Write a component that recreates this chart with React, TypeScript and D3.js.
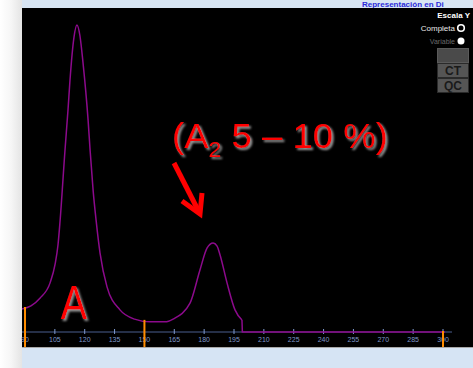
import * as d3 from 'd3';

// electrophoresis trace (x in seconds-ish units, y in % of max)
const curveX = [88.5, 93, 97.5, 102.6, 105.1, 106.6, 107.6, 110.1, 111.6, 112.6, 114.6, 116.1, 117.6, 119.1, 121.7, 122.7, 124.2, 125.7, 127.7, 131.2, 137.7, 145, 152.8, 160.4, 164.4, 172.9, 177.9, 181.5, 184.5, 186.5, 188.0, 191.5, 195.5, 199.0];
const curveY = [7.5, 8.5, 11, 16, 22, 28.5, 36, 59.3, 72.3, 82, 96, 100, 96.5, 88, 69, 59.3, 46.3, 36.5, 25.7, 14.7, 7.2, 4.2, 3.3, 3.3, 4.2, 9.4, 20.2, 27.4, 29.0, 28.0, 25.1, 16.0, 7.2, 3.9];
const tailX = [199.0, 199.2, 301];
const tailY = [3.9, 0, 0];
const limits = [90, 150, 300];
const tickValues = [90, 105, 120, 135, 150, 165, 180, 195, 210, 225, 240, 255, 270, 285, 300];

const W = 473;
const H = 368;
const panel = { left: 22, top: 8, bottom: 347 };
const baseY = 332;

export default function App() {
  const x = d3.scaleLinear().domain([90, 300]).range([25, 443]);
  const y = d3.scaleLinear().domain([0, 100]).range([baseY, 25]);

  const line = d3.line<number>().x(i => x(curveX[i])).y(i => y(curveY[i])).curve(d3.curveMonotoneX);
  const tail = d3.line<number>().x(i => x(tailX[i])).y(i => y(tailY[i]));

  const valueAt = (v: number) => {
    if (v <= curveX[0]) return curveY[0];
    if (v >= curveX[curveX.length - 1]) return 0;
    const j = d3.bisectRight(curveX, v);
    const t = (v - curveX[j - 1]) / (curveX[j] - curveX[j - 1]);
    return curveY[j - 1] + t * (curveY[j] - curveY[j - 1]);
  };

  const font = "'Liberation Sans', Arial, sans-serif";

  return (
    <svg width={W} height={H} style={{ position: 'absolute', left: 0, top: 0, display: 'block' }}>
      <defs>
        <linearGradient id="side" x1="0" x2="1" y1="0" y2="0">
          <stop offset="0" stopColor="#ffffff" />
          <stop offset="0.5" stopColor="#f6f6f6" />
          <stop offset="1" stopColor="#e4e4e4" />
        </linearGradient>
        <filter id="shadow" x="-20%" y="-20%" width="150%" height="150%">
          <feDropShadow dx="2" dy="2" stdDeviation="1" floodColor="#9a9a9a" floodOpacity="1" />
        </filter>
      </defs>

      <rect x={0} y={0} width={panel.left} height={H} fill="url(#side)" />
      <rect x={panel.left} y={0} width={W - panel.left} height={panel.top} fill="#d8e5f3" />
      <text x={362} y={7} fill="#2b2bd9" fontFamily={font} fontWeight="bold" fontSize={8}>Representación en Di</text>

      <rect x={panel.left} y={panel.top} width={W - panel.left} height={panel.bottom - panel.top} fill="#000" />
      <rect x={panel.left} y={panel.bottom} width={W - panel.left} height={H - panel.bottom} fill="#d6e4f4" />
      <line x1={panel.left} x2={W} y1={panel.bottom + 0.5} y2={panel.bottom + 0.5} stroke="#a8a8a8" />

      {/* axis */}
      <line x1={panel.left} x2={452} y1={baseY} y2={baseY} stroke="#4a5f8f" strokeWidth={1} />
      {tickValues.map(t => (
        <g key={t} transform={`translate(${x(t)},0)`}>
          <line y1={baseY - 3} y2={baseY + 2} stroke="#7f9ad0" strokeWidth={1} />
          <text y={baseY + 10} textAnchor="middle" fill="#7f97c8" fontFamily={font} fontSize={7}>{t}</text>
        </g>
      ))}

      {/* trace */}
      <path d={line(d3.range(curveX.length)) || ''} fill="none" stroke="#8c0a8c" strokeWidth={1.5} />
      <path d={tail(d3.range(tailX.length)) || ''} fill="none" stroke="#8c0a8c" strokeWidth={1.5} />

      {/* integration limits */}
      {limits.map(v => (
        <line key={v} x1={x(v)} x2={x(v)} y1={y(valueAt(v)) - 1} y2={panel.bottom} stroke="#ff8c00" strokeWidth={2} />
      ))}

      {/* annotations */}
      <text x={74} y={319} textAnchor="middle" fill="#ff0000" fontFamily={font} fontSize={48}
        filter="url(#shadow)" transform="translate(74,0) scale(0.82,1) translate(-74,0)">A</text>

      <text x={172} y={148} fill="#ff0000" fontFamily={font} fontSize={35} filter="url(#shadow)"
        textLength={216} lengthAdjust="spacingAndGlyphs">
        (A<tspan fontSize={22} dy={9}>2</tspan><tspan dy={-9}> 5 – 10 %)</tspan>
      </text>

      <g stroke="#ff0000" strokeWidth={5} fill="none" strokeLinecap="butt">
        <line x1={174} y1={163} x2={198} y2={210} />
        <polyline points="182,201 200,214 202,193" strokeLinejoin="miter" />
      </g>

      {/* controls */}
      <text x={470} y={18} textAnchor="end" fill="#ffffff" fontFamily={font} fontWeight="bold" fontSize={8}>Escala Y</text>
      <text x={455} y={31} textAnchor="end" fill="#e8e8e8" fontFamily={font} fontSize={8}>Completa</text>
      <circle cx={461} cy={28} r={3.3} fill="#000" stroke="#ffffff" strokeWidth={1.6} />
      <text x={455} y={44} textAnchor="end" fill="#6a6a6a" fontFamily={font} fontSize={7}>Variable</text>
      <circle cx={461} cy={41} r={3.5} fill="#ffffff" />

      <rect x={437} y={48} width={32} height={45} fill="#444" />
      <rect x={437.5} y={48.5} width={31} height={14} fill="#4a4a4a" stroke="#5a5a5a" />
      <rect x={437.5} y={63.5} width={31} height={14} fill="#555" stroke="#2a2a2a" />
      <rect x={437.5} y={78.5} width={31} height={14} fill="#555" stroke="#2a2a2a" />
      <text x={453} y={75} textAnchor="middle" fill="#1a1a1a" fontFamily={font} fontWeight="bold" fontSize={12}>CT</text>
      <text x={453} y={90} textAnchor="middle" fill="#1a1a1a" fontFamily={font} fontWeight="bold" fontSize={12}>QC</text>
    </svg>
  );
}
